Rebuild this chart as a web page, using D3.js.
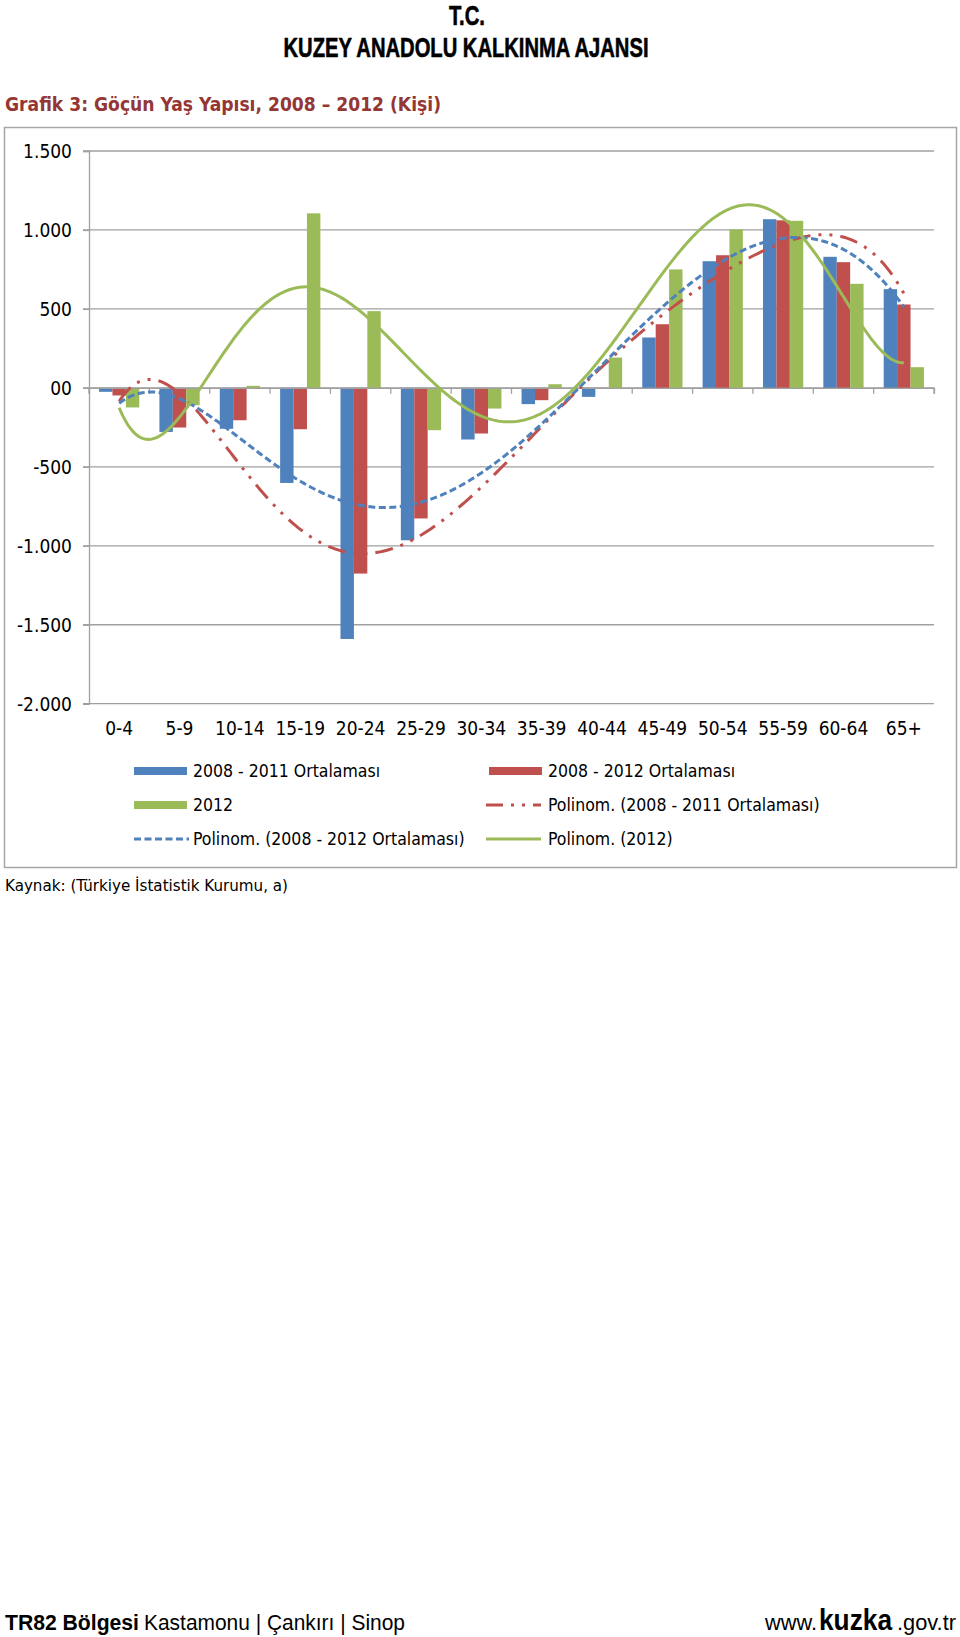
<!DOCTYPE html>
<html>
<head>
<meta charset="utf-8">
<script src="https://cdn.jsdelivr.net/npm/d3@7"></script>
<style>
  html, body { margin: 0; padding: 0; background: #fff; }
  svg { display: block; }
</style>
</head>
<body>
<svg id="chart" width="960" height="1637"></svg>
<script>
// ---- data ----
const categories = ["0-4","5-9","10-14","15-19","20-24","25-29","30-34","35-39","40-44","45-49","50-54","55-59","60-64","65+"];
const avg2008_2011 = [-25,-279,-259,-602,-1590,-965,-327,-103,-57,319,802,1068,830,625];
const avg2008_2012 = [-48,-251,-205,-262,-1176,-827,-289,-78,-5,403,840,1061,796,528];
const y2012 = [-124,-110,13,1105,486,-268,-131,23,192,750,1003,1058,659,131];
const seriesNames = ["2008 - 2011 Ortalaması","2008 - 2012 Ortalaması","2012"];
const trendNames = ["Polinom. (2008 - 2011 Ortalaması)","Polinom. (2008 - 2012 Ortalaması)","Polinom. (2012)"];
const yTicks = [1500,1000,500,0,-500,-1000,-1500,-2000];
const yTickLabels = ["1.500","1.000","500","00","-500","-1.000","-1.500","-2.000"];
const polyOrder = 6;

const colors = ["#4F81BD","#C0504D","#9BBB59"];
const FONT = "'DejaVu Sans Condensed','DejaVu Sans',Verdana,sans-serif";
const NARROW = "'Liberation Sans Narrow','Liberation Sans',Arial,sans-serif";

const svg = d3.select("#chart");

// ---- header ----
svg.append("text").attr("x",467).attr("y",25).attr("text-anchor","middle")
  .attr("font-family",NARROW).attr("font-weight","bold").attr("font-size",28)
  .attr("textLength",36).attr("lengthAdjust","spacingAndGlyphs")
  .attr("stroke","#000").attr("stroke-width",0.6)
  .text("T.C.");
svg.append("text").attr("x",466).attr("y",57).attr("text-anchor","middle")
  .attr("font-family",NARROW).attr("font-weight","bold").attr("font-size",28)
  .attr("textLength",365).attr("lengthAdjust","spacingAndGlyphs")
  .attr("stroke","#000").attr("stroke-width",0.6)
  .text("KUZEY ANADOLU KALKINMA AJANSI");
svg.append("text").attr("x",5).attr("y",111).attr("fill","#943634")
  .attr("font-family",FONT).attr("font-weight","bold").attr("font-size",19)
  .attr("textLength",436).attr("lengthAdjust","spacingAndGlyphs")
  .text("Grafik 3: Göçün Yaş Yapısı, 2008 – 2012 (Kişi)");

// ---- chart frame ----
svg.append("rect").attr("x",4.5).attr("y",127.5).attr("width",952).attr("height",740)
  .attr("fill","#fff").attr("stroke","#A6A6A6").attr("stroke-width",1.5);

// ---- scales ----
const plotL = 89, plotR = 934, plotT = 151, plotB = 703.7;
const y = d3.scaleLinear().domain([-2000,1500]).range([plotB,plotT]);
const x = d3.scaleBand().domain(categories).range([plotL,plotR]).padding(0);
const bw = x.bandwidth()/4.5;
const xs = d3.scaleBand().domain([0,1,2]).range([0.75*bw, 3.75*bw]).padding(0);

// gridlines
svg.append("g").selectAll("line").data(yTicks).join("line")
  .attr("x1",plotL-6).attr("x2",plotR)
  .attr("y1",d=>y(d)).attr("y2",d=>y(d))
  .attr("stroke","#A0A0A0").attr("stroke-width",1.3);

// y axis
const yAxis = d3.axisLeft(y).tickValues(yTicks).tickSize(6).tickPadding(11)
  .tickFormat(d=>yTickLabels[yTicks.indexOf(d)]);
const gy = svg.append("g").attr("transform",`translate(${plotL},0)`).call(yAxis);
gy.select(".domain").attr("stroke","#A0A0A0").attr("stroke-width",1.3);
gy.selectAll(".tick line").attr("stroke","#A0A0A0").attr("stroke-width",1.3);
gy.selectAll(".tick text").attr("font-family",FONT).attr("font-size",19).attr("fill","#000").attr("dy","0.36em");

// bars
const seriesData = [avg2008_2011, avg2008_2012, y2012];
seriesData.forEach((vals, si) => {
  svg.append("g").selectAll("rect").data(vals).join("rect")
    .attr("x",(d,i)=>x(categories[i]) + xs(si))
    .attr("width",xs.bandwidth())
    .attr("y",d=>y(Math.max(0,d)))
    .attr("height",d=>Math.abs(y(d)-y(0)))
    .attr("fill",colors[si]);
});

// x axis on zero line
const xAxis = d3.axisBottom(x).tickSize(6).tickFormat("");
const gx = svg.append("g").attr("transform",`translate(0,${y(0)})`).call(xAxis);
gx.select(".domain").attr("stroke","#A0A0A0").attr("stroke-width",1.3);
gx.selectAll(".tick").remove();
gx.selectAll("line.bt").data(d3.range(categories.length+1)).join("line").attr("class","bt")
  .attr("x1",i=>plotL+i*x.step()).attr("x2",i=>plotL+i*x.step())
  .attr("y1",0).attr("y2",6).attr("stroke","#A0A0A0").attr("stroke-width",1.3);
svg.append("g").selectAll("text").data(categories).join("text")
  .attr("x",d=>x(d)+x.bandwidth()/2).attr("y",735)
  .attr("text-anchor","middle").attr("font-family",FONT).attr("font-size",19)
  .text(d=>d);

// ---- polynomial trend lines (least squares, as Excel) ----
function polyfit(vals, order){
  const n = vals.length, m = order+1;
  const t = i => ((i+1) - (n+1)/2)/((n-1)/2);
  const A = Array.from({length:m},()=>new Array(m+1).fill(0));
  for(let i=0;i<n;i++){
    const ti=t(i);
    const p=[]; for(let k=0;k<m;k++) p.push(Math.pow(ti,k));
    for(let r=0;r<m;r++){ for(let c=0;c<m;c++) A[r][c]+=p[r]*p[c]; A[r][m]+=p[r]*vals[i]; }
  }
  for(let col=0;col<m;col++){
    let piv=col; for(let r=col+1;r<m;r++) if(Math.abs(A[r][col])>Math.abs(A[piv][col])) piv=r;
    [A[col],A[piv]]=[A[piv],A[col]];
    for(let r=0;r<m;r++){ if(r===col) continue; const f=A[r][col]/A[col][col];
      for(let c=col;c<=m;c++) A[r][c]-=f*A[col][c]; }
  }
  const coef=A.map((row,i)=>row[m]/row[i]);
  return xv => { const tv=(xv-(n+1)/2)/((n-1)/2); let s=0; for(let k=0;k<m;k++) s+=coef[k]*Math.pow(tv,k); return s; };
}
const xt = d3.scaleLinear().domain([1,categories.length])
  .range([x(categories[0])+x.bandwidth()/2, x(categories[categories.length-1])+x.bandwidth()/2]);
const samples = d3.range(0,401).map(i=>1+i*(categories.length-1)/400);
const line = d3.line().x(d=>xt(d[0])).y(d=>y(d[1]));
const trendStyles = [
  {color:colors[1], dash:"18,8,3,8,3,8"},
  {color:colors[0], dash:"7,3.5"},
  {color:colors[2], dash:null}
];
const trendSeries = [avg2008_2011, avg2008_2012, y2012];
trendSeries.forEach((vals, i) => {
  const f = polyfit(vals, polyOrder);
  svg.append("path").datum(samples.map(s=>[s,f(s)]))
    .attr("d",line).attr("fill","none")
    .attr("stroke",trendStyles[i].color).attr("stroke-width",3)
    .attr("stroke-dasharray",trendStyles[i].dash);
});

// ---- legend ----
const leg = svg.append("g").attr("font-family",FONT).attr("font-size",17.5);
const legItems = [
  {type:"box", color:colors[0], text:seriesNames[0], x:134, y:771},
  {type:"box", color:colors[1], text:seriesNames[1], x:489, y:771},
  {type:"box", color:colors[2], text:seriesNames[2], x:134, y:805},
  {type:"line", color:colors[1], dash:"17,8,3,8,3,8", text:trendNames[0], x:486, y:805},
  {type:"line", color:colors[0], dash:trendStyles[1].dash, text:trendNames[1], x:134, y:839},
  {type:"line", color:colors[2], dash:null, text:trendNames[2], x:486, y:839}
];
legItems.forEach(it=>{
  if(it.type==="box"){
    leg.append("rect").attr("x",it.x).attr("y",it.y-4).attr("width",53).attr("height",8).attr("fill",it.color);
  } else {
    leg.append("line").attr("x1",it.x).attr("x2",it.x+55).attr("y1",it.y).attr("y2",it.y)
      .attr("stroke",it.color).attr("stroke-width",3).attr("stroke-dasharray",it.dash);
  }
  leg.append("text").attr("x",it.type==="box"? it.x+59 : it.x+(it.x<300?59:62)).attr("y",it.y).attr("dy","0.36em").text(it.text);
});

// ---- source ----
svg.append("text").attr("x",5).attr("y",891).attr("font-family",FONT).attr("font-size",16.5)
  .attr("textLength",283).attr("lengthAdjust","spacingAndGlyphs")
  .text("Kaynak: (Türkiye İstatistik Kurumu, a)");

// ---- footer ----
svg.append("text").attr("x",5).attr("y",1630).attr("font-family",NARROW).attr("font-weight","bold").attr("font-size",22)
  .attr("textLength",134).attr("lengthAdjust","spacingAndGlyphs").text("TR82 Bölgesi");
svg.append("text").attr("x",144).attr("y",1630).attr("font-family",NARROW).attr("font-size",22)
  .attr("textLength",261).attr("lengthAdjust","spacingAndGlyphs").text("Kastamonu | Çankırı | Sinop");
svg.append("text").attr("x",765).attr("y",1630).attr("font-family",NARROW).attr("font-size",22)
  .attr("textLength",52).attr("lengthAdjust","spacingAndGlyphs").text("www.");
svg.append("text").attr("x",819).attr("y",1630).attr("font-family",NARROW).attr("font-weight","bold").attr("font-size",30)
  .attr("textLength",73).attr("lengthAdjust","spacingAndGlyphs").text("kuzka");
svg.append("text").attr("x",897).attr("y",1630).attr("font-family",NARROW).attr("font-size",22)
  .attr("textLength",59).attr("lengthAdjust","spacingAndGlyphs").text(".gov.tr");
</script>
</body>
</html>
